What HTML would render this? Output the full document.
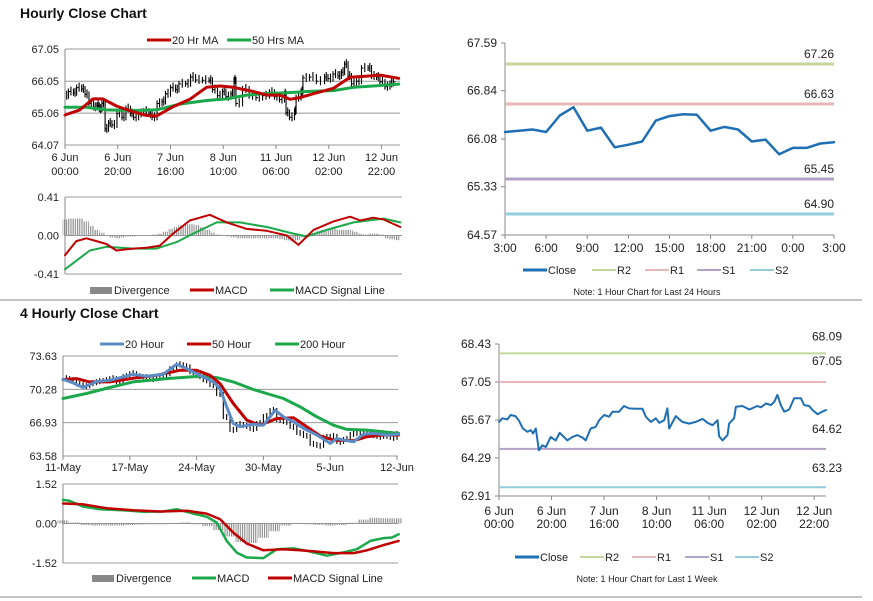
<!DOCTYPE html>
<html><head><meta charset="utf-8"><style>
html,body{margin:0;padding:0;background:#fff;}
svg{display:block;font-family:"Liberation Sans",Arial,sans-serif;}
</style></head><body>
<svg id="s" width="873" height="601" viewBox="0 0 873 601" xmlns="http://www.w3.org/2000/svg">
<defs>
<pattern id="stripe" patternUnits="userSpaceOnUse" width="2.2" height="4"><rect x="0" y="0" width="1.1" height="4" fill="#8a8a8a"/></pattern>
</defs>
<rect x="0" y="0" width="873" height="601" fill="#fff"/>
<text x="20" y="18" font-size="14" font-weight="bold" fill="#111">Hourly Close Chart</text>
<text x="20" y="318" font-size="14" font-weight="bold" fill="#111">4 Hourly Close Chart</text>
<line x1="0" y1="300" x2="862" y2="300" stroke="#888" stroke-width="1"/>
<line x1="0" y1="597" x2="862" y2="597" stroke="#888" stroke-width="1"/>
</svg>
<script>
// ---------- DATA ----------
const weekHours = [0,1.3,3.2,4.4,6.3,7.6,9.1,10.8,12.1,13,14,15.2,16.5,17.8,19.7,21.6,23.1,24.8,26,27.9,29.8,31.8,33,34.9,36.8,38.1,40,41.9,43.2,45.7,47.6,49.5,52.1,54.6,55.9,57.8,59.7,61,62.9,64.1,64.8,67.3,69.8,72.4,74.9,77.5,79.4,81.3,83.2,83.8,85.1,87,87.6,89.5,90.2,92.7,95.3,98.4,99.7,101.6,103.5,104.8,106,107.3,108.6,110.5,112.4,114.9,116.2,118.1,119.4,121.3,123.2,124.5];
const weekClose = [65.60,65.73,65.69,65.85,65.81,65.64,65.36,65.24,65.30,65.18,65.36,64.57,64.75,64.69,65.05,64.93,65.20,65.05,64.93,65.05,65.12,65.03,64.93,65.36,65.42,65.66,65.85,65.79,65.97,65.97,66.18,66.09,66.08,66.08,65.79,65.60,65.73,65.57,65.66,66.09,65.36,65.81,65.60,65.54,65.60,65.71,65.57,65.48,65.66,65.08,64.93,65.12,65.54,65.73,66.15,66.18,66.05,66.18,66.13,66.27,66.21,66.33,66.58,66.21,65.97,66.05,66.46,66.46,66.21,66.18,66.03,65.88,65.98,66.03];
const hourTicks = ["6 Jun|00:00","6 Jun|20:00","7 Jun|16:00","8 Jun|10:00","11 Jun|06:00","12 Jun|02:00","12 Jun|22:00"];
const ma20Hours = [0,5.6,10.6,14.4,19.5,25.8,30.9,34.7,41,47.3,53.7,58.7,63.8,71.4,76.5,81.5,85.3,89.1,95.4,101.8,108.1,114.4,119.5,126.5];
const ma20Vals = [65.00,65.16,65.50,65.50,65.28,65.10,64.99,64.97,65.26,65.49,65.86,65.90,65.86,65.73,65.62,65.62,65.49,65.54,65.69,65.83,66.17,66.21,66.24,66.14];
const ma50Hours = [0,8.1,15.7,25.8,34.7,43.5,53.7,61.3,68.9,76.5,84.1,91.6,101.8,109.4,116.9,126.5];
const ma50Vals = [65.24,65.24,65.16,65.14,65.16,65.34,65.45,65.50,65.62,65.67,65.69,65.73,65.76,65.86,65.90,65.96];
const hMacdHours = [0,4.3,8.1,11.9,15.7,19.5,25.8,30.9,35.9,41,47.3,54.9,61.3,68.9,76.5,84.1,88.5,94.2,101.8,108.1,111.9,116.9,120.8,127.1];
const hMacdVals = [-0.21,-0.06,-0.03,-0.06,-0.09,-0.16,-0.14,-0.13,-0.11,0.02,0.16,0.22,0.14,0.07,0.05,0.00,-0.10,0.06,0.15,0.20,0.16,0.19,0.17,0.09];
const hSigHours = [0,9.4,15.7,25.8,34.7,42.3,48.6,57.5,66.3,76.5,86.6,91.6,99.2,109.4,120.8,127.1];
const hSigVals = [-0.36,-0.16,-0.12,-0.14,-0.14,-0.07,0.02,0.14,0.14,0.09,0.02,-0.01,0.06,0.14,0.18,0.14];
const hDivVals = [0.17,0.18,0.18,0.18,0.15,0.10,0.06,0.03,0.00,-0.02,-0.03,-0.02,-0.01,-0.01,0.00,0.00,0.00,0.01,0.02,0.04,0.07,0.09,0.11,0.12,0.12,0.11,0.09,0.06,0.03,0.01,0.00,-0.01,-0.02,-0.03,-0.03,-0.03,-0.03,-0.03,-0.03,-0.03,-0.03,-0.04,-0.05,-0.06,-0.05,-0.02,0.01,0.03,0.05,0.06,0.06,0.07,0.06,0.06,0.06,0.04,0.02,0.01,0.02,0.02,0.01,-0.03,-0.04,-0.05];
const dayLabels = ["3:00","6:00","9:00","12:00","15:00","18:00","21:00","0:00","3:00"];
const dayClose = [66.19,66.21,66.23,66.19,66.45,66.58,66.21,66.26,65.95,65.99,66.04,66.37,66.44,66.47,66.46,66.21,66.27,66.23,66.04,66.07,65.84,65.94,65.94,66.01,66.03];
const dayLevels = [67.26,66.63,65.45,64.90];
const weekLevels = [68.09,67.05,64.62,63.23];
const levelNames = ["R2","R1","S1","S2"];
const fourTicks = ["11-May","17-May","24-May","30-May","5-Jun","12-Jun"];
const fourIdx = [0,3,6,9,12,15,18,21,24,27,30,33,36,39,42,45,48,51,54,57,60,63,66,69,72,75,78,81,84,87,90,93,96,99,102,105,108,111,114,117,120,123,126,129,132,135,138,141,144,147,150];
const fourClose = [71.4,71.2,70.8,70.6,70.9,71.1,71.2,71.4,71.0,71.6,71.9,71.6,71.5,71.3,71.6,71.8,72.4,72.8,72.6,72.0,71.6,71.2,70.7,69.8,67.5,66.2,66.8,66.6,66.3,66.9,67.6,68.2,67.2,67.0,66.5,65.9,65.6,64.8,64.6,65.5,65.6,65.0,65.3,65.8,65.9,65.8,65.7,65.5,65.6,65.4,65.9];
const h20Idx = [0,4.5,9,15,21,31.5,37.5,45,51,55.5,61.5,67.5,70.5,73.5,76.5,79.5,85.5,90,93,95.3,99,103.5,108,114,120,123,126,130.5,135,139.5,145.5,150.7];
const h20Vals = [71.29,70.93,70.46,71.06,71.19,71.79,71.59,71.79,72.80,72.36,71.69,71.03,70.36,68.52,66.85,66.52,66.78,66.68,67.52,68.19,67.52,67.02,66.35,65.69,64.85,65.35,65.18,65.01,65.78,65.85,65.69,65.78];
const h50Idx = [0,6,12,21,31.5,42,52.5,60,66,70.5,76.5,82.5,88.5,96,103.5,109.5,115.5,121.5,130.5,136.5,144,150.7];
const h50Vals = [71.26,71.36,71.03,71.03,71.39,71.69,72.19,72.19,71.69,70.86,68.86,67.19,66.68,67.35,67.42,66.52,65.59,65.18,65.12,65.52,65.69,65.69];
const h200Idx = [0,10.5,21,31.5,46.5,61.5,69,76.5,85.5,91.5,99,106.5,114,121.5,127.5,136.5,150.7];
const h200Vals = [69.36,69.86,70.46,71.03,71.36,71.59,71.46,71.03,70.26,69.86,69.36,68.52,67.52,66.68,66.25,66.18,65.85];
const fMacdIdx = [0,3,9,16.5,27,36,45,51,58.5,64.5,69,73.5,78,82.5,90,96,103.5,109.5,118.5,127.5,132,138,144,147.8,150.7];
const fMacdVals = [0.91,0.87,0.65,0.55,0.51,0.45,0.46,0.55,0.38,0.26,0.04,-0.67,-1.12,-1.31,-1.33,-0.99,-0.96,-1.05,-1.24,-1.08,-0.99,-0.67,-0.56,-0.54,-0.41];
const fSigIdx = [0,9,19.5,31.5,43.5,55.5,64.5,70.5,76.5,82.5,90,99,106.5,114,121.5,130.5,136.5,144,150.7];
const fSigVals = [0.77,0.74,0.59,0.51,0.46,0.49,0.38,0.17,-0.35,-0.77,-1.03,-0.99,-1.03,-1.08,-1.14,-1.14,-1.03,-0.83,-0.67];
const fDivVals = [0.12,0.04,-0.06,-0.08,-0.08,-0.08,-0.06,-0.04,-0.03,-0.02,0.02,0.04,-0.02,-0.10,-0.25,-0.50,-0.72,-0.75,-0.55,-0.30,-0.08,0.02,-0.03,-0.05,-0.08,-0.06,0.03,0.15,0.22,0.20,0.20];

// ---------- DRAW ----------
const NS="http://www.w3.org/2000/svg";
const svg=document.getElementById('s');
function mk(tag,attrs,name){
  const e=document.createElementNS(NS,tag);
  for(const k in attrs) e.setAttribute(k,attrs[k]);
  
  
  svg.appendChild(e);
  return e;
}
function txt(x,y,s,name,opt){
  opt=opt||{};
  const t=mk('text',{x:x,y:y,'font-size':opt.size||11,fill:opt.fill||'#222','text-anchor':opt.anchor||'start'},name);
  t.textContent=s;
  return t;
}
function lin(x0,x1,r0,r1){return v=>r0+(v-x0)*(r1-r0)/(x1-x0);}
function poly(xs,ys,sx,sy,color,w,name){
  const pts=xs.map((x,i)=>sx(x).toFixed(1)+','+sy(ys[i]).toFixed(1)).join(' ');
  mk('polyline',{points:pts,fill:'none',stroke:color,'stroke-width':w,'stroke-linejoin':'round','stroke-linecap':'round'},name);
}
function legLine(x,y,color,w,label,name){
  mk('line',{x1:x,y1:y,x2:x+24,y2:y,stroke:color,'stroke-width':w},name+'-swatch');
  txt(x+25,y+4,label,name+'-label');
}
function legBox(x,y,label,name){
  mk('rect',{x:x,y:y-3,width:22,height:7,fill:'#888'},name+'-swatch');
  txt(x+24,y+4,label,name+'-label');
}

// ===== Panel 1 =====
(function(){
  const X0=65,X1=400;
  const sx=lin(0,127,X0,X1), sy=lin(67.05,64.07,49,145);
  [67.05,66.05,65.06,64.07].forEach(v=>{
    mk('line',{x1:X0,y1:sy(v),x2:X1,y2:sy(v),stroke:'#999','stroke-width':1},'p1-gridline');
    txt(X0-6,sy(v)+4,v.toFixed(2),'p1-y-tick-label',{anchor:'end'});
  });
  mk('line',{x1:X0,y1:49,x2:X0,y2:145,stroke:'#888'},'p1-y-axis');
  hourTicks.forEach((s,i)=>{
    const x=sx(i*20);
    mk('line',{x1:x,y1:145,x2:x,y2:149,stroke:'#888'},'p1-x-tick');
    const p=s.split('|');
    txt(x,161,p[0],'p1-x-tick-label',{anchor:'middle'});
    txt(x,175,p[1],'p1-x-tick-label',{anchor:'middle'});
  });
  for(let i=1;i<weekClose.length;i++){
    const x0=sx(weekHours[i-1]), x=sx(weekHours[i]);
    const a=weekClose[i-1], b=weekClose[i];
    mk('line',{x1:(x0+x)/2,y1:sy(a)-5,x2:(x0+x)/2,y2:sy(a)+4,stroke:'#000','stroke-width':1.1},'p1-price-bar');
    mk('line',{x1:x,y1:sy(Math.max(a,b))-3,x2:x,y2:sy(Math.min(a,b))+3,stroke:'#000','stroke-width':1.1},'p1-price-bar');
    mk('line',{x1:x,y1:sy(b),x2:x+2,y2:sy(b),stroke:'#000','stroke-width':1},'p1-close-tick');
  }
  poly(ma50Hours,ma50Vals,sx,sy,'#1aa84a',3,'p1-ma50-line');
  poly(ma20Hours,ma20Vals,sx,sy,'#c00000',3,'p1-ma20-line');
  legLine(147,40,'#c00000',3,'20 Hr MA','p1-legend-ma20');
  legLine(227,40,'#1aa84a',3,'50 Hrs MA','p1-legend-ma50');

  const my=lin(0.41,-0.41,197,274);
  [0.41,0,-0.41].forEach(v=>{
    mk('line',{x1:X0,y1:my(v),x2:402,y2:my(v),stroke:'#999'},'p1-macd-gridline');
    txt(X0-6,my(v)+4,v.toFixed(2),'p1-macd-y-label',{anchor:'end'});
  });
  mk('line',{x1:X0,y1:197,x2:X0,y2:274,stroke:'#888'},'p1-macd-y-axis');
  hDivVals.forEach((v,i)=>{
    const x=sx(i*2);
    mk('rect',{x:x-2.6,y:Math.min(my(v),my(0)),width:5.3,height:Math.abs(my(v)-my(0)),fill:'url(#stripe)'},'p1-divergence-bar');
  });
  poly(hSigHours,hSigVals,sx,my,'#1aa84a',2,'p1-signal-line');
  poly(hMacdHours,hMacdVals,sx,my,'#c00000',2,'p1-macd-line');
  legBox(90,290,'Divergence','p1-legend-divergence');
  legLine(190,290,'#c00000',3,'MACD','p1-legend-macd');
  legLine(270,290,'#1aa84a',3,'MACD Signal Line','p1-legend-signal');
})();

// ===== Panel 2 =====
(function(){
  const X0=505,X1=834;
  const sx=lin(0,24,X0,X1), sy=lin(67.59,64.57,43,235);
  [67.59,66.84,66.08,65.33,64.57].forEach(v=>{
    mk('line',{x1:X0-4,y1:sy(v),x2:X0,y2:sy(v),stroke:'#888'},'p2-y-tick');
    txt(X0-8,sy(v)+4,v.toFixed(2),'p2-y-tick-label',{anchor:'end',size:12});
  });
  mk('line',{x1:X0,y1:43,x2:X0,y2:235,stroke:'#888'},'p2-y-axis');
  mk('line',{x1:X0,y1:235,x2:X1,y2:235,stroke:'#888'},'p2-x-axis');
  dayLabels.forEach((s,i)=>{
    const x=sx(i*3);
    mk('line',{x1:x,y1:235,x2:x,y2:239,stroke:'#888'},'p2-x-tick');
    txt(x,252,s,'p2-x-tick-label',{anchor:'middle',size:12});
  });
  const cols=['#c3d69b','#e6b9b8','#b3a2c7','#93cddd'];
  dayLevels.forEach((v,i)=>{
    mk('line',{x1:X0,y1:sy(v),x2:X1,y2:sy(v),stroke:cols[i],'stroke-width':3},'p2-level-'+levelNames[i].toLowerCase());
    txt(X1,sy(v)-6,v.toFixed(2),'p2-level-label',{anchor:'end',size:12});
  });
  poly(dayClose.map((v,i)=>i),dayClose,sx,sy,'#1f6fb5',2.5,'p2-close-line');
  legLine(523,270,'#1f6fb5',3,'Close','p2-legend-close');
  legLine(592,270,cols[0],2,'R2','p2-legend-r2');
  legLine(645,270,cols[1],2,'R1','p2-legend-r1');
  legLine(697,270,cols[2],2,'S1','p2-legend-s1');
  legLine(750,270,cols[3],2,'S2','p2-legend-s2');
  txt(647,295,'Note: 1 Hour Chart for Last 24 Hours','p2-note',{anchor:'middle',size:9});
})();

// ===== Panel 3 =====
(function(){
  const X0=63,X1=398;
  const sx=lin(0,150,X0,X1-1), sy=lin(73.63,63.58,356,456);
  [73.63,70.28,66.93,63.58].forEach(v=>{
    mk('line',{x1:X0,y1:sy(v),x2:X1,y2:sy(v),stroke:'#999'},'p3-gridline');
    txt(X0-6,sy(v)+4,v.toFixed(2),'p3-y-tick-label',{anchor:'end'});
  });
  mk('line',{x1:X0,y1:356,x2:X0,y2:456,stroke:'#888'},'p3-y-axis');
  fourTicks.forEach((s,i)=>{
    const x=sx(i*30);
    mk('line',{x1:x,y1:456,x2:x,y2:460,stroke:'#888'},'p3-x-tick');
    txt(x,471,s,'p3-x-tick-label',{anchor:'middle'});
  });
  for(let i=1;i<fourClose.length;i++){
    const x0=sx(fourIdx[i-1]), x=sx(fourIdx[i]);
    const a=fourClose[i-1], b=fourClose[i];
    mk('line',{x1:(x0+x)/2,y1:sy(a)-3,x2:(x0+x)/2,y2:sy(a)+3,stroke:'#000','stroke-width':1.1},'p3-price-bar');
    mk('line',{x1:x,y1:sy(Math.max(a,b))-2,x2:x,y2:sy(Math.min(a,b))+2,stroke:'#000','stroke-width':1.1},'p3-price-bar');
  }
  poly(h200Idx,h200Vals,sx,sy,'#1aa84a',3,'p3-200-hour-line');
  poly(h50Idx,h50Vals,sx,sy,'#c00000',3,'p3-50-hour-line');
  poly(h20Idx,h20Vals,sx,sy,'#5b8cc5',3,'p3-20-hour-line');
  legLine(100,344,'#5b8cc5',3,'20 Hour','p3-legend-20');
  legLine(187,344,'#c00000',3,'50 Hour','p3-legend-50');
  legLine(275,344,'#1aa84a',3,'200 Hour','p3-legend-200');

  const my=lin(1.52,-1.52,484,563);
  [1.52,0,-1.52].forEach(v=>{
    mk('line',{x1:X0,y1:my(v),x2:X1,y2:my(v),stroke:'#999'},'p3-macd-gridline');
    txt(X0-6,my(v)+4,v.toFixed(2),'p3-macd-y-label',{anchor:'end'});
  });
  mk('line',{x1:X0,y1:484,x2:X0,y2:563,stroke:'#888'},'p3-macd-y-axis');
  fDivVals.forEach((v,i)=>{
    const x=sx(i*5);
    mk('rect',{x:x-5.5,y:Math.min(my(v),my(0)),width:11,height:Math.max(0.8,Math.abs(my(v)-my(0))),fill:'url(#stripe)'},'p3-divergence-bar');
  });
  poly(fMacdIdx,fMacdVals,sx,my,'#1aa84a',2.5,'p3-macd-line');
  poly(fSigIdx,fSigVals,sx,my,'#c00000',2.5,'p3-signal-line');
  legBox(92,578,'Divergence','p3-legend-divergence');
  legLine(192,578,'#1aa84a',3,'MACD','p3-legend-macd');
  legLine(268,578,'#c00000',3,'MACD Signal Line','p3-legend-signal');
})();

// ===== Panel 4 =====
(function(){
  const X0=499,X1=826;
  const sx=lin(0,124.5,X0,X1), sy=lin(68.43,62.91,344,496);
  [68.43,67.05,65.67,64.29,62.91].forEach(v=>{
    mk('line',{x1:X0-4,y1:sy(v),x2:X0,y2:sy(v),stroke:'#888'},'p4-y-tick');
    txt(X0-8,sy(v)+4,v.toFixed(2),'p4-y-tick-label',{anchor:'end',size:12});
  });
  mk('line',{x1:X0,y1:344,x2:X0,y2:496,stroke:'#888'},'p4-y-axis');
  mk('line',{x1:X0,y1:496,x2:X1,y2:496,stroke:'#888'},'p4-x-axis');
  hourTicks.forEach((s,i)=>{
    const x=sx(i*20);
    mk('line',{x1:x,y1:496,x2:x,y2:500,stroke:'#888'},'p4-x-tick');
    const p=s.split('|');
    txt(x,515,p[0],'p4-x-tick-label',{anchor:'middle',size:12});
    txt(x,528,p[1],'p4-x-tick-label',{anchor:'middle',size:12});
  });
  const cols=['#c3d69b','#e6b9b8','#b3a2c7','#93cddd'];
  const lblY=[-13,-17,-16,-15];
  weekLevels.forEach((v,i)=>{
    mk('line',{x1:X0,y1:sy(v),x2:X1,y2:sy(v),stroke:cols[i],'stroke-width':2},'p4-level-'+levelNames[i].toLowerCase());
    txt(842,sy(v)+lblY[i],v.toFixed(2),'p4-level-label',{anchor:'end',size:12});
  });
  poly(weekHours,weekClose,sx,sy,'#1f6fb5',2,'p4-close-line');
  legLine(515,557,'#1f6fb5',3,'Close','p4-legend-close');
  legLine(580,557,cols[0],2,'R2','p4-legend-r2');
  legLine(632,557,cols[1],2,'R1','p4-legend-r1');
  legLine(685,557,cols[2],2,'S1','p4-legend-s1');
  legLine(735,557,cols[3],2,'S2','p4-legend-s2');
  txt(647,582,'Note: 1 Hour Chart for Last 1 Week','p4-note',{anchor:'middle',size:9});
})();
</script>
</body></html>
